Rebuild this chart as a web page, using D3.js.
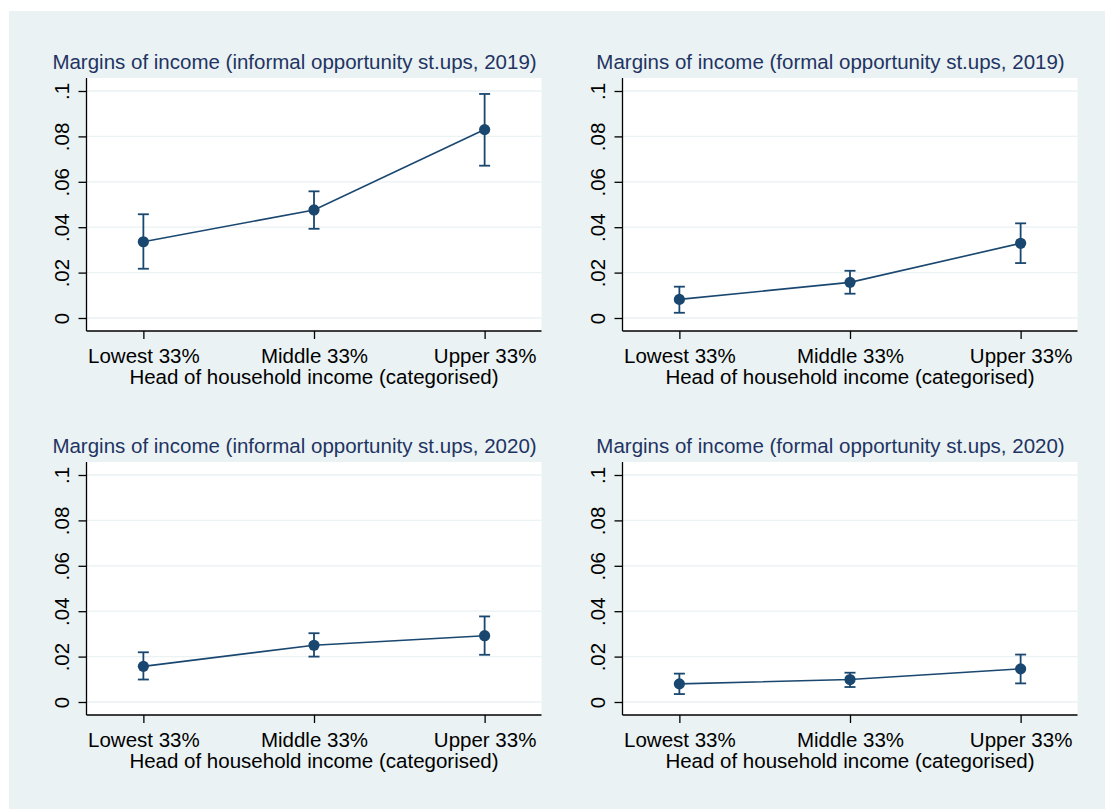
<!DOCTYPE html>
<html>
<head>
<meta charset="utf-8">
<script src="https://cdn.jsdelivr.net/npm/d3@7"></script>
<style>
  body { margin: 0; background: #fff; }
  text { font-family: "Liberation Sans", Arial, sans-serif; }
</style>
</head>
<body>
<div id="chart"></div>
<script>
// Categories and tick labels
const categories = ["Lowest 33%", "Middle 33%", "Upper 33%"];
const yTicks = [0, 0.02, 0.04, 0.06, 0.08, 0.1];
const xTitle = "Head of household income (categorised)";

const panelTitles = [
  "Margins of income (informal opportunity st.ups, 2019)",
  "Margins of income (formal opportunity st.ups, 2019)",
  "Margins of income (informal opportunity st.ups, 2020)",
  "Margins of income (formal opportunity st.ups, 2020)"
];

// Point estimates and 95% CI bounds, one row per panel
const margins = [
  [0.0336, 0.0476, 0.0830],
  [0.0082, 0.0157, 0.0329],
  [0.0157, 0.0250, 0.0292],
  [0.0080, 0.0099, 0.0146]
];
const ciLow = [
  [0.0217, 0.0393, 0.0671],
  [0.0023, 0.0107, 0.0242],
  [0.0099, 0.0200, 0.0208],
  [0.0035, 0.0066, 0.0082]
];
const ciHigh = [
  [0.0457, 0.0558, 0.0987],
  [0.0138, 0.0208, 0.0417],
  [0.0219, 0.0303, 0.0377],
  [0.0125, 0.0129, 0.0209]
];

const width = 1105, height = 809;
const navy = "#1a476f";
const titleColor = "#1f3463";
const bg = "#eaf2f3";

// plot region size and where each panel's plot region sits
const pw = 455, ph = 253;
const origins = [[86.5, 78], [622.5, 78], [86.5, 462], [622.5, 462]];

const svg = d3.select("#chart").append("svg")
  .attr("width", width)
  .attr("height", height);

svg.append("rect")
  .attr("x", 9).attr("y", 11)
  .attr("width", width - 9).attr("height", height - 11)
  .attr("fill", bg);

const x = d3.scalePoint().domain(categories).range([0, pw]).padding(1 / 3);
// 0 sits 13px above the bottom, .1 sits 13px below the top
const y = d3.scaleLinear().domain([0, 0.1]).range([ph - 13, 13]);

const fmt = d => d === 0 ? "0" : d3.format(".2")(d).replace(/^0/, "").replace(/0$/, "");

panelTitles.forEach((title, p) => {
  const [ox, oy] = origins[p];
  const g = svg.append("g").attr("transform", `translate(${ox},${oy})`);

  g.append("rect").attr("width", pw).attr("height", ph).attr("fill", "#fff");

  // gridlines
  g.selectAll(".grid").data(yTicks).enter().append("line")
    .attr("x1", 0).attr("x2", pw)
    .attr("y1", d => y(d)).attr("y2", d => y(d))
    .attr("stroke", bg).attr("stroke-width", 1.3);

  // y axis
  const ya = g.append("g").call(d3.axisLeft(y).tickValues(yTicks).tickSize(8).tickFormat(fmt));
  ya.select(".domain").attr("d", `M0,0V${ph}`).attr("stroke", "#000").attr("stroke-width", 1.3);
  ya.selectAll(".tick line").attr("stroke", "#000").attr("stroke-width", 1.3);
  ya.selectAll(".tick text")
    .attr("x", null).attr("dy", null)
    .attr("transform", "translate(-17.5,0) rotate(-90)")
    .attr("text-anchor", "middle")
    .attr("font-size", 20.5)
    .attr("font-family", "Liberation Sans, Arial, sans-serif")
    .attr("fill", "#000");

  // x axis
  const xa = g.append("g").attr("transform", `translate(0,${ph})`)
    .call(d3.axisBottom(x).tickSize(8));
  xa.select(".domain").attr("d", `M0,0H${pw}`).attr("stroke", "#000").attr("stroke-width", 1.3);
  xa.selectAll(".tick line").attr("stroke", "#000").attr("stroke-width", 1.3);
  xa.selectAll(".tick text")
    .attr("y", 32).attr("dy", null)
    .attr("font-size", 20.5)
    .attr("font-family", "Liberation Sans, Arial, sans-serif")
    .attr("fill", "#000");

  g.append("text")
    .attr("x", pw / 2).attr("y", ph + 52.5)
    .attr("text-anchor", "middle")
    .attr("font-size", 20.5)
    .attr("fill", "#000")
    .text(xTitle);

  g.append("text")
    .attr("x", pw / 2 - 19.5).attr("y", -9.5)
    .attr("text-anchor", "middle")
    .attr("font-size", 20.5)
    .attr("fill", titleColor)
    .text(title);

  const rows = categories.map((c, i) => ({ c, m: margins[p][i], lo: ciLow[p][i], hi: ciHigh[p][i] }));

  g.append("path")
    .datum(rows)
    .attr("fill", "none")
    .attr("stroke", navy)
    .attr("stroke-width", 1.6)
    .attr("d", d3.line().x(d => x(d.c)).y(d => y(d.m)));

  const eb = g.selectAll(".eb").data(rows).enter().append("g")
    .attr("stroke", navy).attr("stroke-width", 1.8);
  eb.append("line")
    .attr("x1", d => x(d.c)).attr("x2", d => x(d.c))
    .attr("y1", d => y(d.lo)).attr("y2", d => y(d.hi));
  eb.append("line")
    .attr("x1", d => x(d.c) - 5.5).attr("x2", d => x(d.c) + 5.5)
    .attr("y1", d => y(d.lo)).attr("y2", d => y(d.lo));
  eb.append("line")
    .attr("x1", d => x(d.c) - 5.5).attr("x2", d => x(d.c) + 5.5)
    .attr("y1", d => y(d.hi)).attr("y2", d => y(d.hi));

  g.selectAll(".pt").data(rows).enter().append("circle")
    .attr("cx", d => x(d.c)).attr("cy", d => y(d.m))
    .attr("r", 5.6)
    .attr("fill", navy);
});
</script>
</body>
</html>
